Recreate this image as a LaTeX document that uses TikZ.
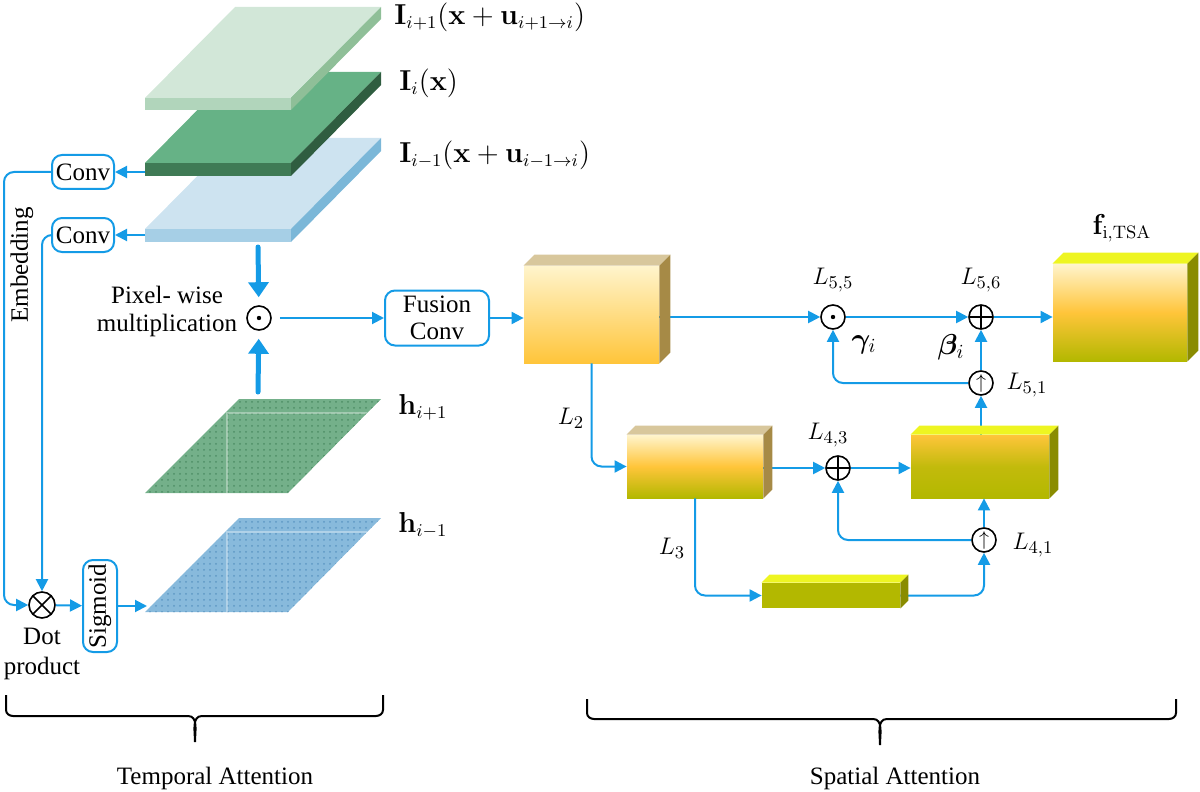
\documentclass[tikz,border=0pt]{standalone}
\usepackage[no-math]{fontspec}
\setmainfont{Liberation Serif}
\usepackage{amsmath,bm}
\usetikzlibrary{positioning,calc,arrows.meta,patterns}

\definecolor{lblue}{RGB}{20,155,230}
\definecolor{paletop}{HTML}{D2E7D8}
\definecolor{palefront}{HTML}{B1D5BB}
\definecolor{paleside}{HTML}{8FBF98}
\definecolor{gtop}{HTML}{66B286}
\definecolor{gfront}{HTML}{3F7A55}
\definecolor{gside}{HTML}{2F5D40}
\definecolor{btop}{HTML}{CDE3F0}
\definecolor{bfront}{HTML}{A6CFE6}
\definecolor{bside}{HTML}{7BB7D8}
\definecolor{hgreen}{HTML}{74B08A}
\definecolor{hgreendot}{HTML}{4F8E66}
\definecolor{hblue}{HTML}{88BADC}
\definecolor{hbluedot}{HTML}{5E98C4}
\definecolor{cream}{HTML}{FFF4CC}
\definecolor{orange}{HTML}{FFC53A}
\definecolor{olive}{HTML}{B3B800}
\definecolor{beige}{HTML}{D8C79C}
\definecolor{tan}{HTML}{A68A46}
\definecolor{yellowtop}{HTML}{EEF521}
\definecolor{oliveside}{HTML}{8A8C00}

\newcommand{\txtfont}{\rmfamily\fontsize{12.5}{14}\selectfont}
\newcommand{\lblfont}{\fontsize{12.5}{14}\selectfont}

\tikzstyle{block} = [rectangle, draw=lblue, line width=1pt, rounded corners=5pt, fill=white, align=center, inner sep=1.5pt, font=\txtfont]
\tikzstyle{link} = [draw=lblue, line width=1pt, -{Triangle[length=6pt,width=6pt]}]
\tikzstyle{fat} = [draw=lblue, line width=2.5pt, line cap=round, -{Triangle[length=7.5pt,width=10pt]}]
\tikzstyle{op} = [circle, draw=black, line width=0.8pt, minimum size=12pt, inner sep=0pt, fill=white]
\tikzstyle{opdot} = [op, path picture={\fill[black] (path picture bounding box.center) circle (1.1pt);}]
\tikzstyle{opplus} = [op, path picture={\draw[line width=0.8pt] (path picture bounding box.north) -- (path picture bounding box.south) (path picture bounding box.west) -- (path picture bounding box.east);}]
\tikzstyle{optimes} = [op, path picture={\draw[line width=0.8pt] (path picture bounding box.north west) -- (path picture bounding box.south east) (path picture bounding box.north east) -- (path picture bounding box.south west);}]
\tikzstyle{opup} = [op, font=\fontsize{10}{10}\selectfont]
\tikzstyle{cube} = [rectangle, inner sep=0pt]
\tikzstyle{lbl} = [font=\lblfont, inner sep=1pt]

% frame slab: front top y, thickness, top, front, side
\newcommand{\slab}[5]{%
  \fill[#3] (145,#1) -- (291,#1) -- ++(90,-91) -- ++(-146,0) -- cycle;
  \fill[#4] (145,#1) rectangle ++(146,#2);
  \fill[#5] (291,#1) -- ++(90,-91) -- ++(0,#2) -- ++(-90,91) -- cycle;}
% flat map: back y, fill, dots
\newcommand{\sheet}[3]{%
  \fill[#2] (239,#1) -- (381,#1) -- (288,#1+94) -- (145,#1+94) -- cycle;
  \fill[pattern=dots, pattern color=#3] (239,#1) -- (381,#1) -- (288,#1+94) -- (145,#1+94) -- cycle;
  \draw[white, opacity=0.35, line width=0.6pt] (226,#1+14) -- (367,#1+14) (227,#1+14) -- (227,#1+94);}
% top and side of a feature block
\newcommand{\faces}[4]{%
  \fill[#3] (#1.north west) -- ++(#2,-#2) -- ($(#1.north east)+(#2,-#2)$) -- (#1.north east) -- cycle;
  \fill[#4] (#1.north east) -- ++(#2,-#2) -- ($(#1.south east)+(#2,-#2)$) -- (#1.south east) -- cycle;}
% brace under a group: left x, tip x, right x, top y, bar y
\newcommand{\underbrk}[5]{%
  \draw[line width=1pt] (#1,#4) -- (#1,#5-6) to[out=-90,in=180] (#1+7,#5) -- (#2-7,#5) to[out=0,in=90] (#2,#5+26)
    to[out=90,in=180] (#2+7,#5) -- (#3-7,#5) to[out=0,in=-90] (#3,#5-6) -- (#3,#4);}

\begin{document}
\begin{tikzpicture}[x=0.5pt, y=-0.5pt]

\useasboundingbox (0,0) rectangle (1200,792);

% input frames
\slab{229}{13}{btop}{bfront}{bside}
\slab{163}{13}{gtop}{gfront}{gside}
\slab{98}{12}{paletop}{palefront}{paleside}

% attention maps
\sheet{399}{hgreen}{hgreendot}
\sheet{518}{hblue}{hbluedot}

\node [lbl, font=\fontsize{13.5}{15}\selectfont, anchor=west] (lup) at (392,17) {$\mathbf{I}_{i+1}(\mathbf{x}+\mathbf{u}_{i+1\rightarrow i})$};
\node [lbl, font=\fontsize{13.5}{15}\selectfont, anchor=west] (lmid) at (397,83) {$\mathbf{I}_{i}(\mathbf{x})$};
\node [lbl, font=\fontsize{13.5}{15}\selectfont, anchor=west] (llow) at (397,155) {$\mathbf{I}_{i-1}(\mathbf{x}+\mathbf{u}_{i-1\rightarrow i})$};
\node [lbl, font=\fontsize{13.5}{15}\selectfont, anchor=west] (lhup) at (396,407) {$\mathbf{h}_{i+1}$};
\node [lbl, font=\fontsize{13.5}{15}\selectfont, anchor=west] (lhlow) at (396,525) {$\mathbf{h}_{i-1}$};

% temporal attention
\node [block, minimum width=31pt, minimum height=17pt] (conva) at (83,172) {Conv};
\node [block, minimum width=31pt, minimum height=17pt] (convb) at (83,235) {Conv};
\node [rotate=90, font=\txtfont] (emb) at (22,265) {Embedding};
\node [optimes, minimum size=13pt] (dotp) at (42,605) {};
\node [font=\rmfamily\fontsize{12.5}{15}\selectfont, align=center, below=1pt of dotp] (dotl) {Dot\\product};
\node [block, rotate=90, minimum width=46pt, minimum height=17pt] (sig) at (100,606) {Sigmoid};
\node [opdot] (pw) at (259,318) {};
\node [font=\txtfont, align=center, left=1pt of pw, yshift=3.5pt] (pwl) {Pixel- wise\\multiplication};
\node [block, minimum width=52pt, minimum height=27.5pt, font=\rmfamily\fontsize{12.5}{13.5}\selectfont] (fus) at (437,318) {Fusion\\Conv};

% spatial attention
\node [cube, minimum width=67.5pt, minimum height=48.5pt, top color=cream, bottom color=orange] (ba) at (591.5,314.5) {};
\node [cube, minimum width=68pt, minimum height=31.5pt, top color=cream, bottom color=olive, middle color=orange] (bb) at (695,466.5) {};
\node [cube, minimum width=69pt, minimum height=31.5pt, top color=orange, bottom color=olive, middle color=olive!80!orange] (bd) at (980,466.5) {};
\node [cube, minimum width=69pt, minimum height=12.5pt, fill=olive] (bc) at (831,595.5) {};
\node [cube, minimum width=67pt, minimum height=48.5pt, top color=cream, bottom color=olive, middle color=orange] (bf) at (1120,312.5) {};

\node [opdot] (c55) at (833,317) {};
\node [opplus] (c56) at (981,317) {};
\node [opup] (u51) at (981,383) {$\uparrow$};
\node [opplus] (c43) at (838,468) {};
\node [opup] (u41) at (984,540) {$\uparrow$};

\coordinate (ifront) at (145,172);
\coordinate (jfront) at (145,235);
\coordinate (embc) at (4,605);
\coordinate (hfront) at (147,606);
\coordinate (ptop) at (258,247);
\coordinate (pbot) at (258,392);

\draw [link] (ifront) -- (conva);
\draw [link] (jfront) -- (convb);
\draw [link, rounded corners=5pt] (conva.west) -| (embc) -- (dotp);
\draw [link, rounded corners=5pt] (convb.west) -| (dotp);
\draw [link] (dotp) -- (sig);
\draw [link] (sig) -- (hfront);
\draw [fat, shorten >=4pt] (ptop) -- (pw);
\draw [fat, shorten >=4pt] (pbot) -- (pw);
\draw [link, shorten <=4pt] (pw) -- (fus);
\draw [link] (fus.east) -- (fus.east -| ba.west);

\draw [link] (ba.east |- c55) -- (c55);
\draw [link] (c55) -- (c56);
\draw [link] (c56) -- (bf.west |- c56);
\draw [link] (bd.north -| u51) -- (u51);
\draw [link] (u51) -- (c56);
\draw [link, rounded corners=5pt] (u51) -| (c55);
\draw [link, rounded corners=5pt] (ba.south) |- (bb.west);
\draw [link] (bb.east |- c43) -- (c43);
\draw [link] (c43) -- (bd.west |- c43);
\draw [link] (u41) -- (u41 |- bd.south);
\draw [link, rounded corners=5pt] (u41) -| (c43);
\draw [link, rounded corners=5pt] (bb.south) |- (bc.west);
\draw [link, rounded corners=5pt] (bc.east) -| (u41);

\faces{ba}{11}{beige}{tan}
\faces{bb}{9}{beige}{tan}
\faces{bd}{9}{yellowtop}{oliveside}
\faces{bc}{8}{yellowtop}{oliveside}
\faces{bf}{11}{yellowtop}{oliveside}

\node [lbl] (l55) at (833,280) {$L_{5,5}$};
\node [lbl] (l56) at (981,280) {$L_{5,6}$};
\node [lbl, font=\fontsize{14}{15}\selectfont] (gam) at (864,345) {$\bm{\gamma}_i$};
\node [lbl, font=\fontsize{14}{15}\selectfont] (bet) at (951,347) {$\bm{\beta}_i$};
\node [lbl] (l51) at (1027,385) {$L_{5,1}$};
\node [lbl] (l43) at (828,435) {$L_{4,3}$};
\node [lbl] (l41) at (1033,545) {$L_{4,1}$};
\node [lbl] (l2) at (571,418) {$L_2$};
\node [lbl] (l3) at (672,548) {$L_3$};
\node [lbl, font=\fontsize{13.5}{15}\selectfont] (ftsa) at (1122,228) {$\mathbf{f}_{\mathrm{i,TSA}}$};

% groups
\underbrk{6}{195}{383}{695}{716}
\underbrk{587}{880}{1176}{699}{719}
\node [font=\txtfont] (tatt) at (215,778) {Temporal Attention};
\node [font=\txtfont] (satt) at (895,778) {Spatial Attention};

\end{tikzpicture}
\end{document}
